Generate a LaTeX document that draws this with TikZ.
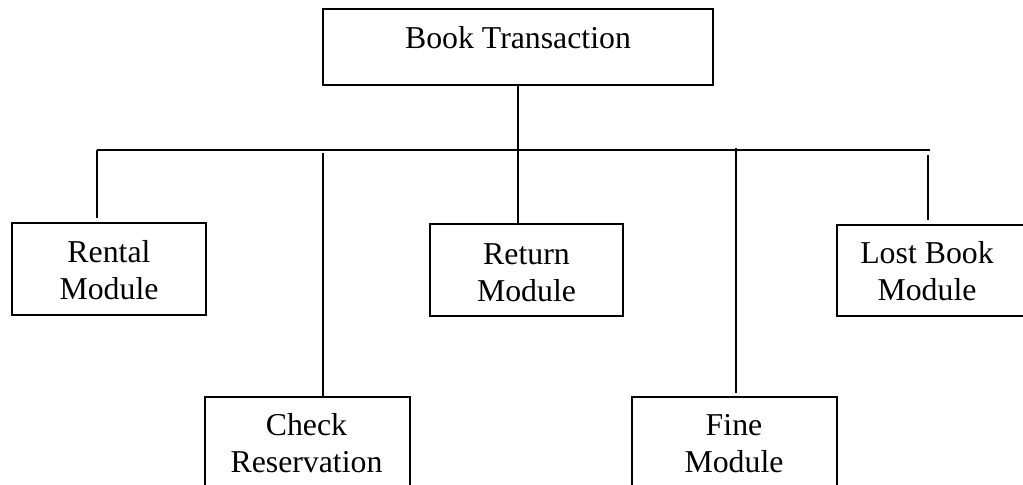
\documentclass[tikz,border=0pt]{standalone}
\usepackage{fontspec}
\setmainfont{Liberation Serif}
\begin{document}
\begin{tikzpicture}[x=0.5pt,y=-0.5pt,
  box/.style={draw, line width=1pt, rectangle, inner sep=0pt},
  lbl/.style={font=\fontsize{15.9}{18.5}\selectfont, align=center, inner sep=0pt, anchor=base},
  conn/.style={line width=1pt}]
\useasboundingbox (0,0) rectangle (1023,485);
\clip (0,0) rectangle (1023,485);
% boxes
\node[box, minimum width=195pt, minimum height=38pt] (top) at (518,47) {};
\node[box, minimum width=97pt, minimum height=46pt] (rent) at (109,269) {};
\node[box, minimum width=96.5pt, minimum height=46pt] (ret) at (526.5,270) {};
\node[box, minimum width=96.5pt, minimum height=45.5pt] (lost) at (933.5,270.5) {};
\node[box, minimum width=102.5pt, minimum height=50pt] (chk) at (307.5,447) {};
\node[box, minimum width=102.5pt, minimum height=50pt] (fine) at (734.5,447) {};
% texts (base = baseline of last line)
\node[lbl] (topT) at (518,49) {Book Transaction};
\node[lbl] (rentT) at (109,300) {Rental\\Module};
\node[lbl] (retT) at (526.5,301.5) {Return\\Module};
\node[lbl] (lostT) at (927,301) {Lost Book\\Module};
\node[lbl] (chkT) at (306.5,473) {Check\\Reservation};
\node[lbl] (fineT) at (734,473) {Fine\\Module};
% connector points
\coordinate (barL) at (97,150);
\coordinate (barR) at (930,150);
\coordinate (rentEnd) at (97,218);
\coordinate (chkTop) at (323,153);
\coordinate (fineTop) at (736,148);
\coordinate (fineEnd) at (736,393);
\coordinate (lostTop) at (928,155);
\coordinate (lostEnd) at (928,220);
% connectors
\draw[conn] (top.south) -- (top.south |- ret.north);
\draw[conn] (barL) -- (barR);
\draw[conn] (barL) -- (rentEnd);
\draw[conn] (chkTop) -- (chkTop |- chk.north);
\draw[conn] (fineTop) -- (fineEnd);
\draw[conn] (lostTop) -- (lostEnd);
\end{tikzpicture}
\end{document}
